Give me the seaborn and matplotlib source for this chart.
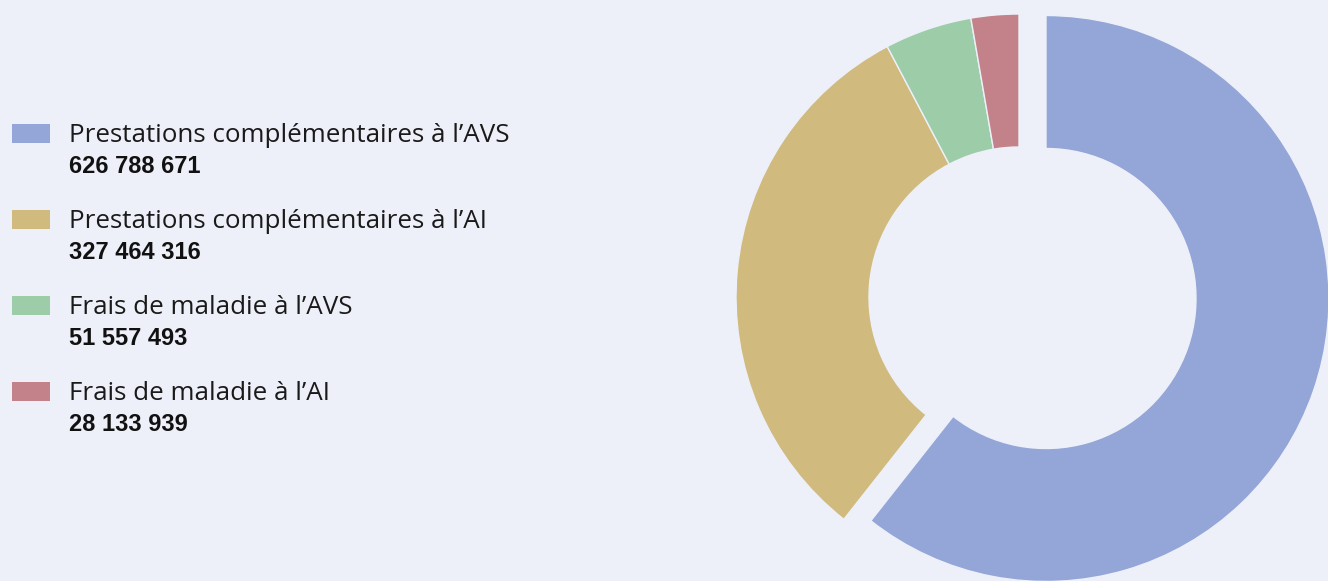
import matplotlib
matplotlib.use("Agg")
import matplotlib.pyplot as plt
from matplotlib.patches import Rectangle
import seaborn as sns

# data
categories = [
    "Prestations complémentaires à l’AVS",
    "Prestations complémentaires à l’AI",
    "Frais de maladie à l’AVS",
    "Frais de maladie à l’AI",
]
values = [626788671, 327464316, 51557493, 28133939]
colors = ["#93A6D7", "#D0BA7E", "#9CCDA8", "#C3828A"]
bg = "#EEF0F9"

sns.set_theme(style="white", rc={"figure.facecolor": bg, "axes.facecolor": bg})
palette = sns.color_palette(colors)

W, H = 1328, 581
fig = plt.figure(figsize=(W / 100, H / 100), dpi=100)

# donut: centre (1019, 297) px from top-left, radius 283 px
cx, cy, R = 1019, 297, 283
half = 320
ax = fig.add_axes([(cx - half) / W, (H - cy - half) / H, 2 * half / W, 2 * half / H])
wedges, _ = ax.pie(values, colors=palette, startangle=90, counterclock=False, radius=1,
                   wedgeprops=dict(width=0.47, edgecolor=bg, linewidth=1))
# the first slice is pulled out, almost straight to the right
wedges[0].set_center((27 / R, -1.5 / R))
lim = half / R
ax.set_xlim(-lim, lim)
ax.set_ylim(-lim, lim)
ax.set_aspect("equal")
ax.axis("off")

# legend drawn in pixel coordinates
lg = fig.add_axes([0, 0, 1, 1])
lg.set_xlim(0, W)
lg.set_ylim(H, 0)
lg.axis("off")
lg.patch.set_alpha(0)
for i, (lab, val) in enumerate(zip(categories, values)):
    top = 124 + i * 86
    lg.add_patch(Rectangle((12, top), 38, 19, color=palette[i], lw=0))
    lg.text(69, top + 18, lab, fontsize=18.7, family="Open Sans", color="#1a1a1a", va="baseline")
    lg.text(69, top + 49, f"{val:,}".replace(",", " "), fontsize=17, family="Liberation Sans",
            fontweight="bold", color="#111111", va="baseline")

fig.savefig("out.png", dpi=100, facecolor=bg)
